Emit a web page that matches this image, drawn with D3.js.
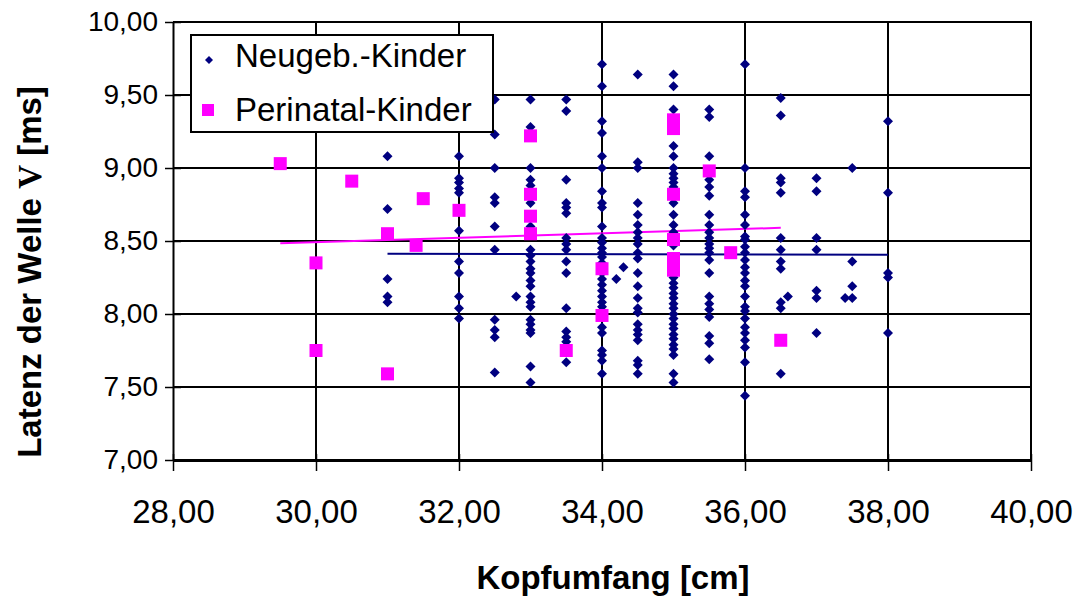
<!DOCTYPE html>
<html>
<head>
<meta charset="utf-8">
<script src="https://cdn.jsdelivr.net/npm/d3@7"></script>
<style>
  html, body { margin: 0; padding: 0; background: #fff; }
  svg { display: block; font-family: "Liberation Sans", Arial, sans-serif; }
</style>
</head>
<body>
<svg id="chart" width="1078" height="596"></svg>
<script>
// Kopfumfang [cm] -> Latenz der Welle V [ms], one row per head circumference
const neugebKinder = [
  [31,   [9.08, 8.72, 8.24, 8.12, 8.08]],
  [32,   [9.08, 8.93, 8.90, 8.86, 8.83, 8.57, 8.36, 8.28, 8.12, 8.04, 7.97]],
  [32.5, [9.47, 9.23, 9.00, 8.80, 8.76, 8.60, 8.44, 7.96, 7.89, 7.84, 7.60]],
  [32.8, [8.12]],
  [33,   [9.47, 9.28, 9.00, 8.92, 8.88, 8.76, 8.60, 8.44, 8.40, 8.36, 8.31, 8.28, 8.23, 8.19,
          8.12, 8.08, 8.05, 7.96, 7.93, 7.89, 7.87, 7.64, 7.53]],
  [33.5, [9.47, 9.39, 8.92, 8.76, 8.73, 8.69, 8.52, 8.48, 8.44, 8.36, 8.28, 8.04, 7.88, 7.84, 7.81, 7.67]],
  [34,   [9.71, 9.56, 9.32, 9.24, 9.08, 9.00, 8.84, 8.76, 8.73, 8.60, 8.52, 8.49, 8.45, 8.42, 8.39,
          8.35, 8.28, 8.24, 8.20, 8.16, 8.12, 8.08, 8.05, 7.91, 7.87, 7.75, 7.72, 7.68, 7.59]],
  [34.2, [8.24]],
  [34.3, [8.32]],
  [34.5, [9.64, 9.04, 9.00, 8.76, 8.68, 8.61, 8.56, 8.52, 8.48, 8.42, 8.38, 8.28, 8.19, 8.11, 8.04,
          8.01, 7.93, 7.89, 7.86, 7.82, 7.68, 7.65, 7.59]],
  [35,   [9.64, 9.56, 9.40, 9.31, 9.15, 9.08, 9.00, 8.96, 8.93, 8.90, 8.87, 8.76, 8.68, 8.61, 8.56,
          8.47, 8.28, 8.25, 8.21, 8.18, 8.14, 8.11, 8.07, 8.04, 8.00, 7.97, 7.93, 7.90, 7.86, 7.83,
          7.79, 7.76, 7.72, 7.59, 7.53]],
  [35.5, [9.40, 9.35, 9.08, 8.92, 8.87, 8.81, 8.68, 8.61, 8.56, 8.52, 8.48, 8.45, 8.42, 8.37, 8.28,
          8.12, 8.07, 8.03, 7.98, 7.85, 7.80, 7.69]],
  [36,   [9.71, 9.00, 8.84, 8.80, 8.68, 8.61, 8.53, 8.51, 8.46, 8.42, 8.37, 8.32, 8.28, 8.23, 8.19,
          8.12, 8.05, 8.02, 7.97, 7.91, 7.87, 7.82, 7.77, 7.67, 7.44]],
  [36.5, [9.48, 9.36, 8.93, 8.90, 8.83, 8.52, 8.44, 8.36, 8.31, 8.08, 8.04, 7.59]],
  [36.6, [8.12]],
  [37,   [8.93, 8.84, 8.52, 8.44, 8.16, 8.11, 7.87]],
  [37.4, [8.11]],
  [37.5, [9.00, 8.36, 8.19, 8.11]],
  [38,   [9.32, 8.83, 8.28, 8.25, 7.87]]
];

const perinatalKinder = [
  [29.5, [9.03]],
  [30,   [8.35, 7.75]],
  [30.5, [8.91]],
  [31,   [8.55, 7.59]],
  [31.4, [8.47]],
  [31.5, [8.79]],
  [32,   [8.71]],
  [33,   [9.22, 8.82, 8.67, 8.55]],
  [33.5, [7.75]],
  [34,   [8.31, 7.99]],
  [35,   [9.33, 9.27, 8.82, 8.51, 8.38, 8.30]],
  [35.5, [8.98]],
  [35.8, [8.42]],
  [36.5, [7.82]]
];

// linear trend lines (start and end point of each)
const trendNeugeb    = [[31, 8.412], [38, 8.405]];
const trendPerinatal = [[29.5, 8.485], [36.5, 8.59]];

const xTicks = [28, 30, 32, 34, 36, 38, 40];
const yTicks = [7, 7.5, 8, 8.5, 9, 9.5, 10];

const seriesNames = ["Neugeb.-Kinder", "Perinatal-Kinder"];
const xTitle = "Kopfumfang [cm]";

const navy = "#000080";
const magenta = "#FF00FF";

const flatten = rows => rows.flatMap(([k, vs]) => vs.map(v => ({ x: k, y: v })));
const neugebPts = flatten(neugebKinder);
const periPts = flatten(perinatalKinder);

const svg = d3.select("#chart");
const plotL = 173, plotR = 1031, plotT = 22, plotB = 460;

const x = d3.scaleLinear().domain([28, 40]).range([plotL, plotR]);
const y = d3.scaleLinear().domain([7, 10]).range([plotB, plotT]);

const de = d3.formatLocale({ decimal: ",", thousands: ".", grouping: [3], currency: ["", " €"] });
const fmt = de.format(".2f");

// grid
const grid = svg.append("g");
grid.selectAll("line.h").data(yTicks.filter(t => t > 7)).join("line")
  .attr("x1", plotL).attr("x2", plotR)
  .attr("y1", d => y(d)).attr("y2", d => y(d))
  .attr("stroke", "#000").attr("stroke-width", 2);
grid.selectAll("line.v").data(xTicks.filter(t => t > 28)).join("line")
  .attr("x1", d => x(d)).attr("x2", d => x(d))
  .attr("y1", plotT).attr("y2", plotB)
  .attr("stroke", "#000").attr("stroke-width", 2);

// axes
const yAxis = svg.append("g")
  .attr("transform", `translate(${plotL},0)`)
  .call(d3.axisLeft(y).tickValues(yTicks).tickFormat(fmt).tickSizeInner(8).tickSizeOuter(0).tickPadding(7));
yAxis.select(".domain").attr("stroke", "#000").attr("stroke-width", 2);
yAxis.selectAll(".tick line").clone().attr("x2", 8);
yAxis.selectAll(".tick line").attr("stroke-width", 1.5);
yAxis.selectAll("text").attr("font-size", 28).attr("fill", "#000")
  .attr("font-family", "'Liberation Sans', Arial, sans-serif");

const xAxis = svg.append("g")
  .attr("transform", `translate(0,${plotB})`)
  .call(d3.axisBottom(x).tickValues(xTicks).tickFormat(fmt).tickSizeInner(11).tickSizeOuter(0).tickPadding(29));
xAxis.select(".domain").attr("stroke", "#000").attr("stroke-width", 3);
xAxis.selectAll(".tick line").clone().attr("y2", -6);
xAxis.selectAll(".tick line").attr("stroke-width", 1.5);
xAxis.selectAll("text").attr("font-size", 33).attr("fill", "#000")
  .attr("font-family", "'Liberation Sans', Arial, sans-serif");

// axis titles
svg.append("text")
  .attr("x", (plotL + plotR) / 2 + 11).attr("y", 589)
  .attr("text-anchor", "middle").attr("font-size", 33).attr("font-weight", "bold")
  .text(xTitle);

const yt = svg.append("text")
  .attr("transform", `translate(41,272) rotate(-90)`)
  .attr("text-anchor", "middle").attr("font-size", 33).attr("font-weight", "bold");
yt.append("tspan").text("Latenz der Welle ");
yt.append("tspan").attr("font-family", "'Liberation Serif', serif").text("V");
yt.append("tspan").text(" [ms]");

// trend lines
const line = d3.line().x(d => x(d[0])).y(d => y(d[1]));
svg.append("path").attr("d", line(trendNeugeb))
  .attr("fill", "none").attr("stroke", navy).attr("stroke-width", 2);
svg.append("path").attr("d", line(trendPerinatal))
  .attr("fill", "none").attr("stroke", magenta).attr("stroke-width", 2);

// markers
const diamond = r => `M0,${-r}L${r},0L0,${r}L${-r},0Z`;
svg.append("g").selectAll("path").data(neugebPts).join("path")
  .attr("d", diamond(5))
  .attr("transform", d => `translate(${x(d.x)},${y(d.y)})`)
  .attr("fill", navy);

svg.append("g").selectAll("rect").data(periPts).join("rect")
  .attr("x", d => x(d.x) - 6.5).attr("y", d => y(d.y) - 6.5)
  .attr("width", 13).attr("height", 13)
  .attr("fill", magenta);

// plot frame (top and right)
svg.append("path")
  .attr("d", `M${plotL},${plotT}H${plotR}V${plotB}`)
  .attr("fill", "none").attr("stroke", "#000").attr("stroke-width", 2);

// legend
const lg = svg.append("g");
lg.append("rect").attr("x", 191).attr("y", 35).attr("width", 302).attr("height", 97)
  .attr("fill", "#fff").attr("stroke", "#000").attr("stroke-width", 2);
lg.append("path").attr("d", diamond(4)).attr("transform", "translate(209,60)").attr("fill", navy);
lg.append("rect").attr("x", 202).attr("y", 104).attr("width", 12).attr("height", 12).attr("fill", magenta);
lg.append("text").attr("x", 235).attr("y", 67).attr("font-size", 33).text(seriesNames[0]);
lg.append("text").attr("x", 235).attr("y", 121).attr("font-size", 33).text(seriesNames[1]);
</script>
</body>
</html>
